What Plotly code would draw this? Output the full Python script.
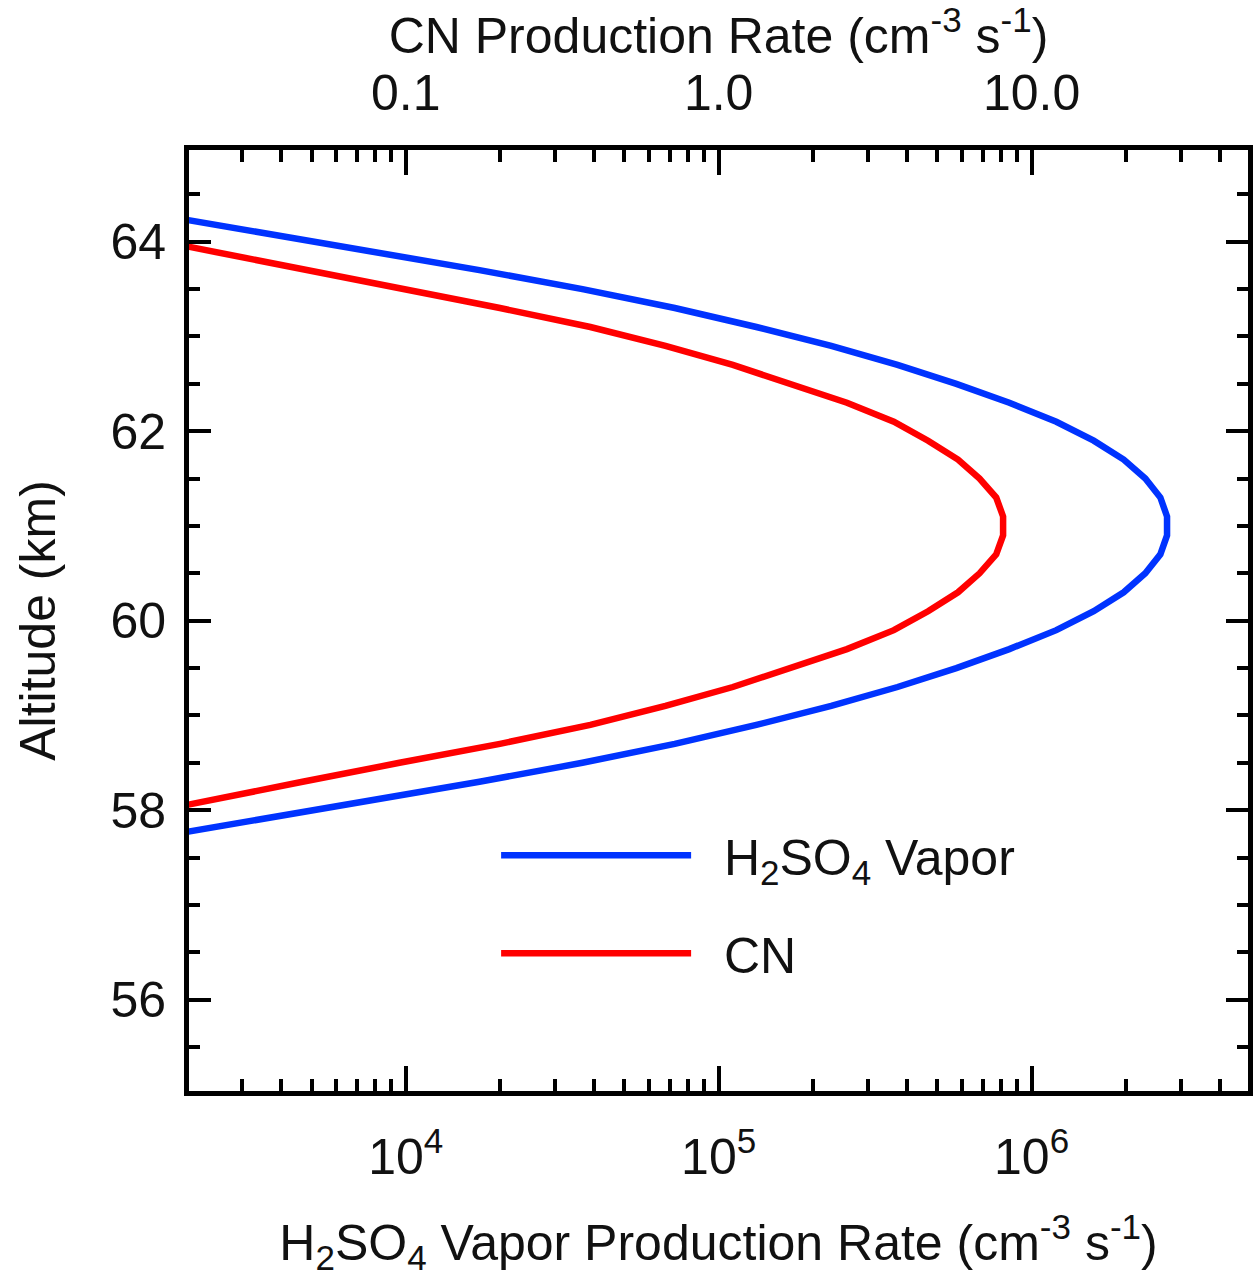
import plotly.graph_objects as go

# Altitude grid (km)
altitude = [57.7, 57.9, 58.1, 58.3, 58.5, 58.7, 58.9, 59.1, 59.3, 59.5, 59.7, 59.9,
            60.1, 60.3, 60.5, 60.7, 60.9, 61.1, 61.3, 61.5, 61.7, 61.9, 62.1, 62.3,
            62.5, 62.7, 62.9, 63.1, 63.3, 63.5, 63.7, 63.9, 64.1, 64.3]

# H2SO4 vapor production rate (cm^-3 s^-1), bottom axis
h2so4 = [1.5e3, 3.4e3, 7.9e3, 1.72e4, 3.67e4, 7.24e4, 1.32e5, 2.29e5, 3.73e5, 5.75e5,
         8.49e5, 1.20e6, 1.58e6, 1.97e6, 2.31e6, 2.58e6, 2.71e6, 2.71e6, 2.58e6, 2.31e6,
         1.97e6, 1.58e6, 1.20e6, 8.49e5, 5.75e5, 3.73e5, 2.29e5, 1.32e5, 7.24e4, 3.67e4,
         1.72e4, 7.9e3, 3.4e3, 1.5e3]

# CN production rate (cm^-3 s^-1), top axis
cn = [0.0058, 0.0115, 0.0232, 0.0468, 0.0955, 0.200, 0.389, 0.676, 1.11, 1.69,
      2.57, 3.63, 4.67, 5.82, 6.82, 7.71, 8.11, 8.11, 7.71, 6.82,
      5.82, 4.67, 3.63, 2.57, 1.69, 1.11, 0.676, 0.389, 0.200, 0.0955,
      0.0468, 0.0232, 0.0115, 0.0058]

bottom_tickvals = [1e4, 1e5, 1e6]
bottom_ticktext = ["10<sup>4</sup>", "10<sup>5</sup>", "10<sup>6</sup>"]
top_tickvals = [0.1, 1.0, 10.0]
top_ticktext = ["0.1", "1.0", "10.0"]
y_tickvals = [56, 58, 60, 62, 64]

bottom_minor = [3e3, 4e3, 5e3, 6e3, 7e3, 8e3, 9e3,
                2e4, 3e4, 4e4, 5e4, 6e4, 7e4, 8e4, 9e4,
                2e5, 3e5, 4e5, 5e5, 6e5, 7e5, 8e5, 9e5,
                2e6, 3e6, 4e6]
top_minor = [0.03, 0.04, 0.05, 0.06, 0.07, 0.08, 0.09,
             0.2, 0.3, 0.4, 0.5, 0.6, 0.7, 0.8, 0.9,
             2, 3, 4, 5, 6, 7, 8, 9,
             20, 30, 40]

FONT = "Liberation Sans, Arial, Helvetica, sans-serif"
BLUE = "#0033ff"
RED = "#ff0000"
NB = "\u00a0\u00a0"

fig = go.Figure()
fig.add_trace(go.Scatter(x=h2so4, y=altitude, mode="lines", name=NB + "H<sub>2</sub>SO<sub>4</sub> Vapor",
                         legendgroup="a",
                         line=dict(color=BLUE, width=6.5), xaxis="x", yaxis="y"))
fig.add_trace(go.Scatter(x=cn, y=altitude, mode="lines", name=NB + "CN",
                         legendgroup="b",
                         line=dict(color=RED, width=6.5), xaxis="x2", yaxis="y"))

xl, xr = 3.3073, 6.6917
fig.update_layout(
    width=1258, height=1279,
    margin=dict(l=189, r=5, t=150, b=188),
    paper_bgcolor="white", plot_bgcolor="white",
    font=dict(family=FONT, size=50, color="#111"),
    showlegend=True,
    legend=dict(x=0.29, y=0.292, xanchor="left", yanchor="top",
                bgcolor="rgba(0,0,0,0)", font=dict(size=50, family=FONT),
                itemwidth=190, tracegroupgap=30),
    xaxis=dict(type="log", range=[xl, xr], showline=True, linecolor="black", linewidth=5,
               ticks="inside", ticklen=25, tickwidth=4, tickcolor="black",
               tickmode="array", tickvals=bottom_tickvals, ticktext=bottom_ticktext,
               minor=dict(tickmode="array", tickvals=bottom_minor, ticks="inside",
                          ticklen=12, tickwidth=4, tickcolor="black"),
               showgrid=False, zeroline=False, ticklabelstandoff=18,
               title=dict(text="H<sub>2</sub>SO<sub>4</sub> Vapor Production Rate (cm<sup>-3</sup> s<sup>-1</sup>)",
                          font=dict(size=50), standoff=42)),
    xaxis2=dict(type="log", range=[xl - 5, xr - 5], overlaying="x", side="top",
                showline=True, linecolor="black", linewidth=5,
                ticks="inside", ticklen=25, tickwidth=4, tickcolor="black",
                tickmode="array", tickvals=top_tickvals, ticktext=top_ticktext,
                minor=dict(tickmode="array", tickvals=top_minor, ticks="inside",
                           ticklen=12, tickwidth=4, tickcolor="black"),
                showgrid=False, zeroline=False, ticklabelstandoff=15,
                title=dict(text="CN Production Rate (cm<sup>-3</sup> s<sup>-1</sup>)",
                           font=dict(size=50), standoff=22)),
    yaxis=dict(range=[55.036, 64.968], showline=True, mirror="ticks", linecolor="black", linewidth=5,
               ticks="inside", ticklen=22, tickwidth=4, tickcolor="black",
               tickmode="array", tickvals=y_tickvals,
               minor=dict(dtick=0.5, tick0=55, ticks="inside", ticklen=11, tickwidth=4, tickcolor="black"),
               showgrid=False, zeroline=False, ticklabelstandoff=8,
               title=dict(text="Altitude (km)", font=dict(size=50), standoff=40)),
)

fig.write_html("out.html")
